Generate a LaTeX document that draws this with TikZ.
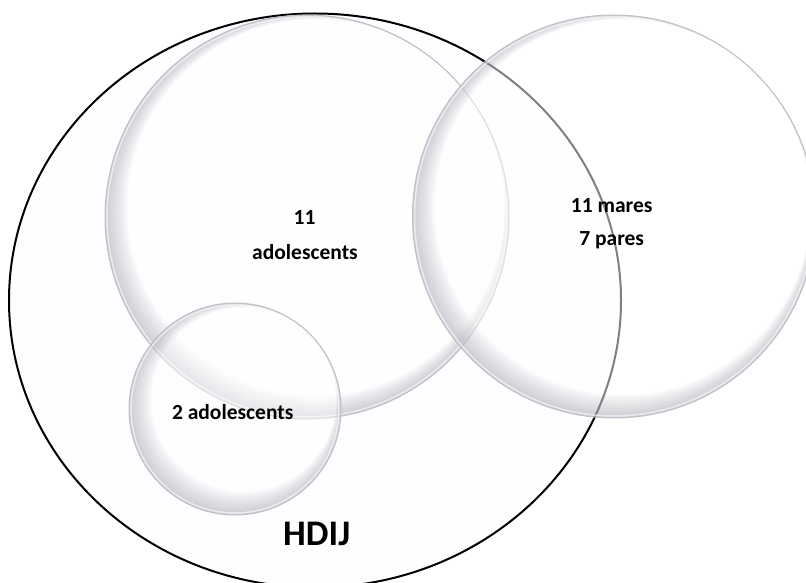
\documentclass[tikz,border=0pt]{standalone}
\usepackage{fontspec}
\setmainfont{Carlito}
\usetikzlibrary{calc}
\definecolor{lensgray}{RGB}{135,135,155}
\definecolor{lensedge}{RGB}{192,193,200}
\definecolor{innerbg}{RGB}{254,253,255}
\newcommand{\lensdisc}[3]{%
  \fill[white, fill opacity=0.5] (#1,#2) circle[radius=#3];
  \begin{scope}
    \clip (#1,#2) circle[radius=#3];
    \foreach \k in {1,...,16} {
      \fill[lensgray, fill opacity=0.028, even odd rule]
        (#1,#2) circle[radius=#3]
        ($(#1,#2)+(0.55*\k,-0.6*\k)$) circle[radius={#3-0.85*\k}];
    }
    \draw[white, opacity=0.6, line width=1.5pt] (#1,#2) circle[radius={#3-2}];
  \end{scope}
  \draw[lensedge, line width=1pt] (#1,#2) circle[radius=#3];
}
\begin{document}
\begin{tikzpicture}[x=1pt,y=-1pt,
  lab/.style={font=\fontsize{21.5}{24}\selectfont\bfseries, inner sep=0pt, anchor=base, text=black},
  biglab/.style={font=\fontsize{36}{40}\selectfont\bfseries, inner sep=0pt, anchor=base, text=black}]
\useasboundingbox (0,0) rectangle (806,583);
\clip (0,0) rectangle (806,583);
\fill[white] (0,0) rectangle (806,583);
% HDIJ outer ellipse
\fill[innerbg] (315,300.5) ellipse [x radius=306, y radius=287];
\draw[black, line width=2pt] (315,300.5) ellipse [x radius=306, y radius=287];
% circles
\lensdisc{307}{217}{202}
\lensdisc{614}{216.5}{201.5}
\lensdisc{235}{409}{106}
% labels
\node[lab] (n11) at (304.5,224) {11};
\node[lab] (adol) at (305,259) {adolescents};
\node[lab] (mares) at (611.7,212.5) {11 mares};
\node[lab] (pares) at (611.7,245) {7 pares};
\node[lab] (two) at (232.7,419.3) {2 adolescents};
\node[biglab] (hdij) at (316.7,545) {HDIJ};
\end{tikzpicture}
\end{document}
